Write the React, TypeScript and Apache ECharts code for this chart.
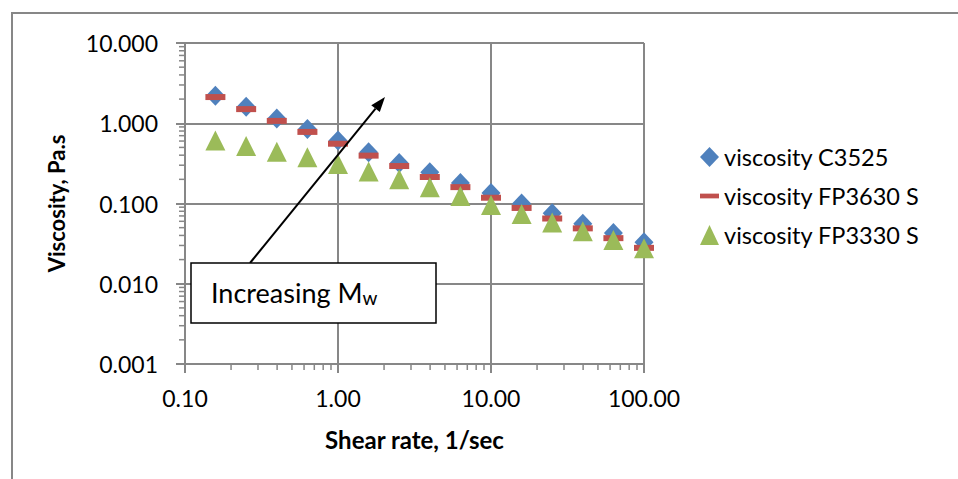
import React, { useEffect, useRef } from "react";
import * as echarts from "echarts";

const shearRate = [0.158, 0.251, 0.398, 0.631, 1, 1.585, 2.512, 3.981, 6.31, 10, 15.85, 25.12, 39.81, 63.1, 100];
const viscC3525 = [2.2, 1.61, 1.15, 0.85, 0.61, 0.435, 0.32, 0.245, 0.18, 0.135, 0.1, 0.0755, 0.056, 0.043, 0.033];
const viscFP3630 = [2.12, 1.5, 1.07, 0.78, 0.556, 0.395, 0.293, 0.214, 0.16, 0.118, 0.088, 0.065, 0.049, 0.037, 0.028];
const viscFP3330 = [0.61, 0.52, 0.44, 0.377, 0.31, 0.25, 0.2, 0.159, 0.124, 0.096, 0.074, 0.058, 0.045, 0.035, 0.0276];

const seriesNames = ["viscosity C3525", "viscosity FP3630 S", "viscosity FP3330 S"];
const xMinorTicks = [0.2, 0.3, 0.4, 0.5, 0.6, 0.7, 0.8, 0.9, 2, 3, 4, 5, 6, 7, 8, 9, 20, 30, 40, 50, 60, 70, 80, 90];
const yMinorTicks = [
  0.002, 0.003, 0.004, 0.005, 0.006, 0.007, 0.008, 0.009,
  0.02, 0.03, 0.04, 0.05, 0.06, 0.07, 0.08, 0.09,
  0.2, 0.3, 0.4, 0.5, 0.6, 0.7, 0.8, 0.9,
  2, 3, 4, 5, 6, 7, 8, 9,
];
const X_MIN = 0.1, X_MAX = 100, Y_MIN = 0.001, Y_MAX = 10;

const GRAY = "#878787";

export default function App() {
  const ref = useRef<HTMLDivElement>(null);
  useEffect(() => {
    if (!ref.current) return;
    const chart = echarts.init(ref.current, null, { renderer: "svg" });

    const minorData: number[][] = [
      ...xMinorTicks.map((v) => [v, Y_MIN, 0]),
      ...yMinorTicks.map((v) => [X_MIN, v, 1]),
    ];

    // arrow geometry
    const sx = 250, sy = 263, tx = 385, ty = 97;
    const dx = tx - sx, dy = ty - sy;
    const len = Math.sqrt(dx * dx + dy * dy);
    const ux = dx / len, uy = dy / len;
    const nx = -uy, ny = ux;
    const hl = 15, hw = 5.5;
    const bx = tx - hl * ux, by = ty - hl * uy;

    chart.setOption({
      animation: false,
      textStyle: { fontFamily: "Lato" },
      grid: { left: 185, top: 43, width: 459, height: 321, containLabel: false },
      xAxis: {
        type: "log",
        logBase: 10,
        min: X_MIN,
        max: X_MAX,
        name: "Shear rate, 1/sec",
        nameLocation: "middle",
        nameGap: 63,
        nameTextStyle: { fontFamily: "Lato", fontWeight: "bold", fontSize: 24, color: "#000" },
        axisLine: { show: true, lineStyle: { color: GRAY, width: 2 } },
        axisTick: { show: true, length: 9, lineStyle: { color: GRAY, width: 2 } },
        axisLabel: {
          margin: 22,
          fontSize: 23,
          color: "#000",
          formatter: (v: number) => v.toFixed(2),
        },
        splitLine: { show: true, lineStyle: { color: GRAY, width: 2 } },
      },
      yAxis: {
        type: "log",
        logBase: 10,
        min: Y_MIN,
        max: Y_MAX,
        name: "Viscosity, Pa.s",
        nameLocation: "middle",
        nameGap: 118,
        nameRotate: 90,
        nameTextStyle: { fontFamily: "Lato", fontWeight: "bold", fontSize: 22, color: "#000" },
        axisLine: { show: true, lineStyle: { color: GRAY, width: 2 } },
        axisTick: { show: true, length: 9, lineStyle: { color: GRAY, width: 2 } },
        axisLabel: {
          margin: 27,
          fontSize: 23,
          color: "#000",
          formatter: (v: number) => v.toFixed(3),
        },
        splitLine: { show: true, lineStyle: { color: GRAY, width: 2 } },
      },
      legend: {
        orient: "vertical",
        left: 700,
        top: 145,
        padding: 0,
        itemWidth: 19,
        itemHeight: 20,
        itemGap: 15,
        symbolKeepAspect: true,
        textStyle: { fontFamily: "Lato", fontSize: 23.5, color: "#000" },
        data: [
          { name: seriesNames[0], icon: "diamond" },
          { name: seriesNames[1], icon: "path://M0,0H20V5H0Z" },
          { name: seriesNames[2], icon: "triangle" },
        ],
      },
      series: [
        {
          type: "custom",
          name: "minorTicks",
          silent: true,
          clip: false,
          z: 1,
          encode: { x: 0, y: 1 },
          data: minorData,
          renderItem: (params: any, api: any) => {
            const p = api.coord([api.value(0), api.value(1)]);
            const kind = api.value(2);
            if (kind === 0) {
              return {
                type: "line",
                shape: { x1: p[0], y1: p[1], x2: p[0], y2: p[1] + 6 },
                style: { stroke: GRAY, lineWidth: 1.5 },
              };
            }
            return {
              type: "line",
              shape: { x1: p[0] - 6, y1: p[1], x2: p[0], y2: p[1] },
              style: { stroke: GRAY, lineWidth: 1.5 },
            };
          },
        },
        {
          type: "scatter",
          name: seriesNames[0],
          symbol: "diamond",
          symbolSize: [19, 20],
          itemStyle: { color: "#4F81BD", opacity: 1 },
          z: 3,
          data: shearRate.map((x, i) => [x, viscC3525[i]]),
        },
        {
          type: "scatter",
          name: seriesNames[1],
          symbol: "rect",
          symbolSize: [20, 6],
          itemStyle: { color: "#C0504D", opacity: 1 },
          z: 4,
          data: shearRate.map((x, i) => [x, viscFP3630[i]]),
        },
        {
          type: "scatter",
          name: seriesNames[2],
          symbol: "triangle",
          symbolSize: [20, 20],
          itemStyle: { color: "#9BBB59", opacity: 1 },
          z: 5,
          data: shearRate.map((x, i) => [x, viscFP3330[i]]),
        },
      ],
      graphic: [
        {
          type: "rect",
          shape: { x: 12, y: 13, width: 980, height: 500 },
          style: { fill: "none", stroke: GRAY, lineWidth: 2 },
          z: 0,
          silent: true,
        },
        {
          type: "line",
          shape: { x1: sx, y1: sy, x2: bx, y2: by },
          style: { stroke: "#000", lineWidth: 2 },
          z: 20,
        },
        {
          type: "polygon",
          shape: {
            points: [
              [tx, ty],
              [bx + hw * nx, by + hw * ny],
              [bx - hw * nx, by - hw * ny],
            ],
          },
          style: { fill: "#000" },
          z: 20,
        },
        {
          type: "rect",
          shape: { x: 191, y: 263, width: 245, height: 60 },
          style: { fill: "#fff", stroke: "#000", lineWidth: 1.5 },
          z: 21,
        },
        {
          type: "text",
          x: 211,
          y: 292,
          z: 22,
          style: {
            text: "{a|Increasing M}{b|w}",
            verticalAlign: "middle",
            fill: "#000",
            rich: {
              a: { fontFamily: "Lato", fontSize: 27, lineHeight: 30, fill: "#000" },
              b: { fontFamily: "Lato", fontSize: 19, lineHeight: 30, verticalAlign: "bottom", fill: "#000" },
            },
          },
        },
      ],
    });
    return () => chart.dispose();
  }, []);
  return (
    <div
      ref={ref}
      style={{ position: "fixed", left: 0, top: 0, width: 958, height: 479, background: "#fff" }}
    />
  );
}
